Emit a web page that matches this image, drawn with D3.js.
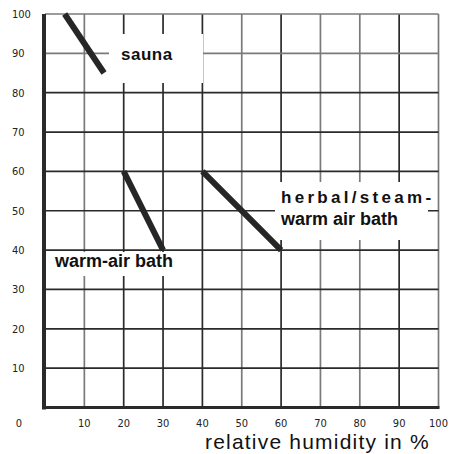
<!DOCTYPE html>
<html><head><meta charset="utf-8">
<script src="https://cdn.jsdelivr.net/npm/d3@7"></script>
<style>body{margin:0;background:#fff}svg{display:block}</style>
</head><body><svg id="c" width="451" height="454"></svg>
<script>
// ---- data ----
const xTicks = [0,10,20,30,40,50,60,70,80,90,100];
const yTicks = [10,20,30,40,50,60,70,80,90,100];
const lightX = [10,50,70,80,100];
const lightY = [90,100];
const bathNames = ["sauna","warm-air bath","herbal/steam-warm air bath"];
const humidityStart = [5,20,40];
const humidityEnd = [15,30,60];
const tempStart = [100,60,60];
const tempEnd = [85,40,40];
const xTitle = "relative humidity in %";

const svg = d3.select("#c");
const x = d3.scaleLinear().domain([0,100]).range([45,438.5]);
const y = d3.scaleLinear().domain([0,100]).range([407.5,14]);
const dark = "#2a2a2a", light = "#7a7a7a";

// grid
svg.append("g").selectAll("line").data(xTicks.filter(d=>d>0)).join("line")
  .attr("x1",d=>x(d)).attr("x2",d=>x(d)).attr("y1",y(0)).attr("y2",y(100))
  .attr("stroke",d=>lightX.includes(d)?light:dark).attr("stroke-width",1.7);
svg.append("g").selectAll("line").data(yTicks).join("line")
  .attr("x1",x(0)).attr("x2",x(100)).attr("y1",d=>y(d)).attr("y2",d=>y(d))
  .attr("stroke",d=>lightY.includes(d)?light:dark).attr("stroke-width",1.7);

// label boxes (white backgrounds)
const boxes = [
  {x0:109,y0:34,x1:203,y1:83},
  {x0:47,y0:252,x1:201,y1:276},
  {x0:275,y0:182,x1:428,y1:240}
];
svg.append("g").selectAll("rect").data(boxes).join("rect")
  .attr("x",d=>d.x0).attr("y",d=>d.y0).attr("width",d=>d.x1-d.x0).attr("height",d=>d.y1-d.y0)
  .attr("fill","#fff");

// axes frame
svg.append("line").attr("x1",x(0)-1).attr("x2",x(0)-1).attr("y1",y(100)).attr("y2",y(0)+2)
  .attr("stroke",dark).attr("stroke-width",4);
svg.append("line").attr("x1",x(0)-3).attr("x2",x(100)+1).attr("y1",y(0)).attr("y2",y(0))
  .attr("stroke",dark).attr("stroke-width",3.2);

// data lines
svg.append("g").selectAll("line").data(bathNames).join("line")
  .attr("x1",(d,i)=>x(humidityStart[i])).attr("y1",(d,i)=>y(tempStart[i]))
  .attr("x2",(d,i)=>x(humidityEnd[i])).attr("y2",(d,i)=>y(tempEnd[i]))
  .attr("stroke","#262626").attr("stroke-width",6);

// tick labels
const tickFont = "'Liberation Sans Narrow', 'DejaVu Sans Condensed', sans-serif";
svg.append("g").selectAll("text").data(yTicks).join("text")
  .attr("x",12).attr("y",d=>y(d)).attr("dy","0.35em")
  .attr("font-family",tickFont).attr("font-size",11).attr("fill","#222")
  .text(d=>d);
svg.append("g").selectAll("text").data(xTicks).join("text")
  .attr("x",d=>d===0?x(0)-26:x(d)).attr("y",423).attr("dy","0.35em")
  .attr("text-anchor","middle")
  .attr("font-family",tickFont).attr("font-size",11).attr("fill","#222")
  .text(d=>d);

// axis title
svg.append("text").attr("x",205).attr("y",449)
  .attr("font-family","'Liberation Sans', Arial, sans-serif").attr("font-size",21)
  .attr("letter-spacing",1.2).attr("fill","#111")
  .text(xTitle);

// bath labels
const lf = "'Liberation Sans', Arial, sans-serif";
svg.append("text").attr("x",121).attr("y",60).attr("font-family",lf).attr("font-weight","bold")
  .attr("font-size",17).attr("letter-spacing",0.5).attr("fill","#111").text(bathNames[0]);
svg.append("text").attr("x",55).attr("y",267).attr("font-family",lf).attr("font-weight","bold")
  .attr("font-size",18).attr("fill","#111").text(bathNames[1]);
const hp = bathNames[2].split("-");
svg.append("text").attr("x",281).attr("y",203).attr("font-family",lf).attr("font-weight","bold")
  .attr("font-size",17).attr("letter-spacing",3.3).attr("fill","#111").text(hp[0]+"-");
svg.append("text").attr("x",281).attr("y",225).attr("font-family",lf).attr("font-weight","bold")
  .attr("font-size",18).attr("fill","#111").text(hp[1]);
</script></body></html>
